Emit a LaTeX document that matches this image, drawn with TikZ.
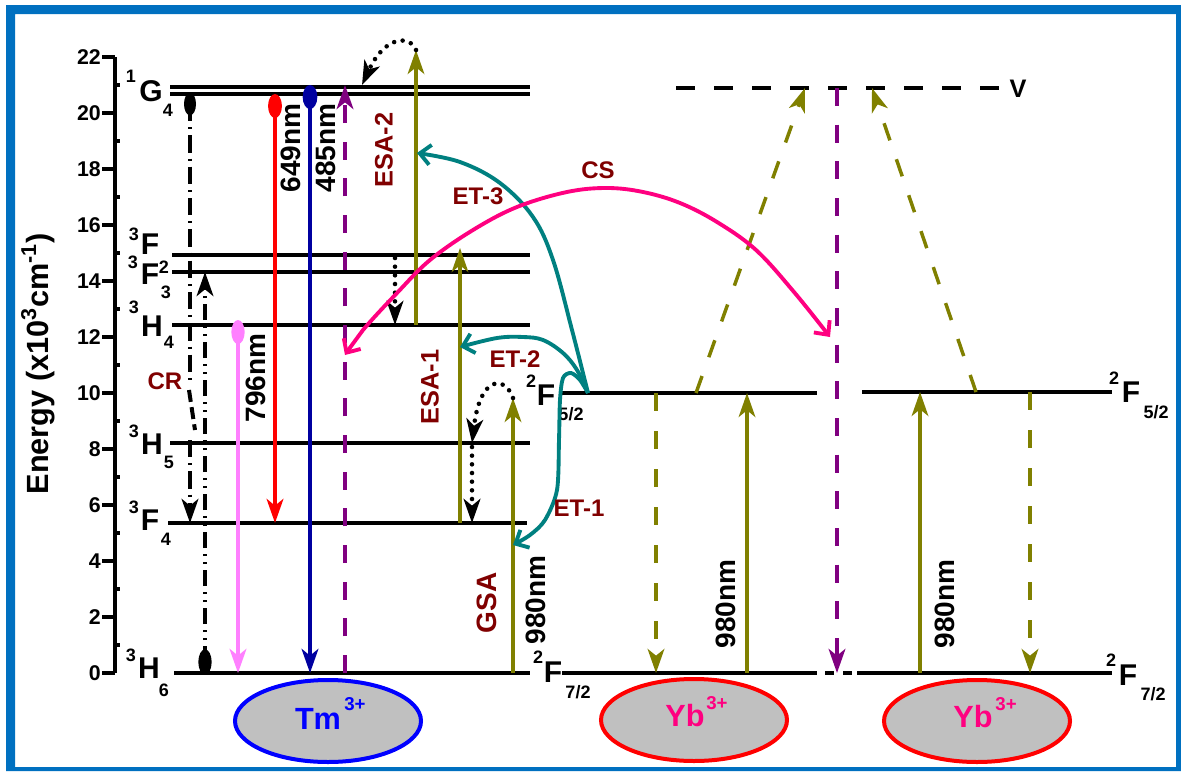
\documentclass[tikz,border=0pt]{standalone}
\usepackage{fontspec}
\setmainfont{Liberation Sans}
\usetikzlibrary{arrows.meta,shapes.geometric}

\definecolor{frameblue}{RGB}{0,112,192}
\definecolor{olivec}{RGB}{128,128,0}
\definecolor{tealc}{RGB}{0,128,128}
\definecolor{labelred}{RGB}{128,0,0}
\definecolor{hotpink}{RGB}{255,0,128}
\definecolor{lightmag}{RGB}{255,128,255}
\definecolor{navyc}{RGB}{0,0,160}
\definecolor{purplec}{RGB}{128,0,128}
\definecolor{ionfill}{RGB}{192,192,192}

\newcommand\fsz[1]{\fontsize{#1pt}{#1pt}\selectfont\bfseries}

\begin{document}
\begin{tikzpicture}[x=0.75pt,y=-0.75pt,
  lvl/.style={line width=2.8pt},
  lbl/.style={inner sep=0pt},
  big/.style={lbl,font=\fsz{22.5}},
  sml/.style={lbl,font=\fsz{13.5}},
  tk/.style={lbl,anchor=east,font=\fsz{16}},
  rot/.style={lbl,rotate=90,font=\fsz{21}},
  proc/.style={lbl,text=labelred,font=\fsz{18}},
  headS/.style={-{Stealth[length=18pt,width=12.5pt,inset=5pt]}},
  headB/.style={-{Straight Barb[length=8pt,width=15pt]}},
  olivearr/.style={olivec,line width=2.3pt,headS},
  olivedash/.style={olivec,line width=2.6pt,dash pattern=on 13.5pt off 15pt,headS},
  purpdash/.style={purplec,line width=3pt,dash pattern=on 13.5pt off 14pt,headS},
  emit/.style={line width=3pt,headS},
  dots/.style={line width=3.4pt,line cap=round,dash pattern=on 0pt off 6.5pt,headS},
  crdash/.style={line width=3pt,dash pattern=on 13pt off 4.5pt on 1.5pt off 4.5pt},
  crdash2/.style={line width=3pt,dash pattern=on 12pt off 4.5pt on 1.5pt off 4.5pt on 1.5pt off 4.5pt},
  etline/.style={tealc,line width=2.9pt,headB},
  ion/.style={ellipse,fill=ionfill,line width=3pt,minimum width=139.5pt,minimum height=61.5pt,inner sep=0pt}
]
\useasboundingbox (0,0) rectangle (1181,771);
\fill[white] (0,0) rectangle (1181,771);
% frame
\fill[frameblue,even odd rule] (6,5) rectangle (1181,771) (15,14) rectangle (1176,767);

% energy axis
\draw[line width=2.5pt] (115,57) -- (115,673);
\foreach \e in {0,2,...,22}{
  \pgfmathsetmacro\yy{673-28*\e}
  \draw[line width=2.5pt] (102,\yy) -- (115,\yy);
  \node[tk] (tick\e) at (101,\yy) {\e};
}
\foreach \e in {1,3,...,21}{
  \pgfmathsetmacro\yy{673-28*\e}
  \draw[line width=2.5pt] (115,\yy) -- (120,\yy);
}
\node[lbl,rotate=90,font=\fsz{23}] (elabel) at (38,364) {Energy (x10\textsuperscript{3}cm\textsuperscript{-1})};

% Tm3+ levels
\draw[lvl] (170,87) -- (530,87);
\draw[lvl] (170,94) -- (530,94);
\draw[lvl] (172,255) -- (530,255);
\draw[lvl] (172,272) -- (530,272);
\draw[lvl] (172,325) -- (530,325);
\draw[lvl] (170,443) -- (530,443);
\draw[lvl] (168,523) -- (527,523);
\draw[lvl] (174,673) -- (530,673);

% Tm3+ level names
\node[sml] (g4a) at (131,76) {1};
\node[big] (g4b) at (151,91) {G};
\node[sml] (g4c) at (168,110) {4};
\node[sml] (f2a) at (134,234) {3};
\node[big] (f2b) at (150,244) {F};
\node[sml] (f2c) at (164,267) {2};
\node[sml] (f3a) at (133,262) {3};
\node[big] (f3b) at (150,274) {F};
\node[sml] (f3c) at (166,292) {3};
\node[sml] (h4a) at (134,307) {3};
\node[big] (h4b) at (152,326) {H};
\node[sml] (h4c) at (169,342) {4};
\node[sml] (h5a) at (134,431) {3};
\node[big] (h5b) at (152,444) {H};
\node[sml] (h5c) at (169,462) {5};
\node[sml] (f4a) at (134,507) {3};
\node[big] (f4b) at (150,520) {F};
\node[sml] (f4c) at (166,539) {4};
\node[sml] (h6a) at (131,655) {3};
\node[big] (h6b) at (149,668) {H};
\node[sml] (h6c) at (164,690) {6};

% Yb3+ levels
\draw[lvl] (560,393) -- (817,393);
\draw[lvl] (562,673) -- (817,673);
\draw[lvl,dash pattern=on 6.5pt off 7pt] (825,673) -- (855,673);
\draw[lvl] (857,673) -- (1112,673);
\draw[lvl] (862,392) -- (1112,392);
\draw[line width=3.2pt,dash pattern=on 14.25pt off 14.25pt] (676,88) -- (1000,88);
\node[lbl,font=\fsz{19}] (vlab) at (1018,89) {V};

\node[sml] (y1a) at (531,381) {2};
\node[big] (y1b) at (546,395) {F};
\node[sml] (y1c) at (571,414) {5/2};
\node[sml] (y2a) at (538,657) {2};
\node[big] (y2b) at (553,672) {F};
\node[sml] (y2c) at (578,692) {7/2};
\node[sml] (y3a) at (1114,378) {2};
\node[big] (y3b) at (1131,392) {F};
\node[sml] (y3c) at (1156,412) {5/2};
\node[sml] (y4a) at (1111,660) {2};
\node[big] (y4b) at (1128,675) {F};
\node[sml] (y4c) at (1153,694) {7/2};

% cross relaxation
\coordinate (crA) at (190,104);
\coordinate (crB) at (190,523);
\coordinate (crC) at (205,662);
\coordinate (crD) at (205,272);
\draw[crdash] (crA) -- (190,385);
\draw[line width=3pt,dash pattern=on 9pt off 4pt] (189,390) -- (195,430);
\draw[crdash,headS] (190,440) -- (crB);
\draw[crdash2,headS] (crC) -- (crD);
\fill (crA) ellipse [x radius=4.5pt,y radius=8.5pt];
\fill (crC) ellipse [x radius=5pt,y radius=9.5pt];
\node[proc] (crlab) at (165,381) {CR};

% emissions
\coordinate (e796a) at (238,332);
\coordinate (e796b) at (238,673);
\coordinate (e649a) at (275,106);
\coordinate (e649b) at (275,523);
\coordinate (e485a) at (310,97);
\coordinate (e485b) at (310,673);
\draw[emit,lightmag] (e796a) -- (e796b);
\fill[lightmag] (e796a) ellipse [x radius=5pt,y radius=9pt];
\draw[emit,red] (e649a) -- (e649b);
\fill[red] (e649a) ellipse [x radius=5.2pt,y radius=9pt];
\draw[emit,navyc] (e485a) -- (e485b);
\fill[navyc] (e485a) ellipse [x radius=5.5pt,y radius=9pt];
\node[rot] (n796) at (256,378) {796nm};
\node[rot] (n649) at (291,148) {649nm};
\node[rot] (n485) at (326,148) {485nm};

% Tm3+ dashed purple
\coordinate (tmpA) at (345,673);
\coordinate (tmpB) at (345,85);
\draw[purpdash] (tmpA) -- (tmpB);

% absorptions in Tm3+
\coordinate (gsaA) at (513,673);
\coordinate (gsaB) at (513,398);
\coordinate (esa1A) at (460,523);
\coordinate (esa1B) at (460,248);
\coordinate (esa2A) at (416,325);
\coordinate (esa2B) at (416,50);
\draw[olivearr] (gsaA) -- (gsaB);
\draw[olivearr] (esa1A) -- (esa1B);
\draw[olivearr] (esa2A) -- (esa2B);
\node[rot,text=labelred] (gsalab) at (487,603) {GSA};
\node[rot] (n980a) at (536,600) {980nm};
\node[rot,text=labelred,font=\fsz{19}] (esa1lab) at (430,387) {ESA-1};
\node[rot,text=labelred,font=\fsz{19}] (esa2lab) at (384,150) {ESA-2};

% non-radiative relaxations
\draw[dots] (esa2B) .. controls (410,35) and (385,35) .. (362,85);
\draw[dots] (gsaB) .. controls (505,375) and (480,375) .. (472,443);
\draw[dots] (395,258) -- (395,325);
\draw[dots] (472,447) -- (472,523);

% Yb3+ transitions
\coordinate (yb1up) at (747,673);
\coordinate (yb1top) at (747,393);
\coordinate (yb1dn) at (656,393);
\coordinate (yb1bot) at (656,673);
\coordinate (yb2up) at (920,673);
\coordinate (yb2top) at (920,392);
\coordinate (yb2dn) at (1030,392);
\coordinate (yb2bot) at (1030,673);
\coordinate (vl) at (805,88);
\coordinate (vr) at (872,88);
\coordinate (vm) at (837,88);
\coordinate (vmb) at (837,673);
\draw[olivearr] (yb1up) -- (yb1top);
\draw[olivedash] (yb1dn) -- (yb1bot);
\draw[olivearr] (yb2up) -- (yb2top);
\draw[olivedash] (yb2dn) -- (yb2bot);
\draw[olivedash] (696,393) -- (vl);
\draw[olivedash] (976,392) -- (vr);
\draw[purpdash] (vm) -- (vmb);
\node[rot] (n980b) at (726,604) {980nm};
\node[rot] (n980c) at (945,604) {980nm};

% energy transfer
\coordinate (src) at (588,393);
\draw[etline] plot[smooth,tension=0.6] coordinates {(src) (572,330) (553,260) (533,217) (500,183) (460,162) (417,153)};
\draw[etline] plot[smooth,tension=0.6] coordinates {(src) (577,370) (563,353) (543,340) (523,337) (497,338) (460,347)};
\draw[etline] plot[smooth,tension=0.5] coordinates {(src) (580,380) (571,373) (563,378) (560,400) (559,440) (557,490) (545,520) (530,535) (513,545)};
\node[proc] (et3) at (478,196) {ET-3};
\node[proc] (et2) at (515,359) {ET-2};
\node[proc] (et1) at (579,508) {ET-1};

% cooperative sensitization
\draw[hotpink,line width=2.9pt,{Straight Barb[length=8pt,width=15pt]}-{Straight Barb[length=8pt,width=15pt]}]
  plot[smooth,tension=0.6] coordinates {(345,355) (363,330) (397,293) (430,260) (473,230) (517,207) (567,192) (607,188) (643,192) (680,203) (717,222) (756,250) (794,292) (830,337)};
\node[proc] (cs) at (598,170) {CS};

% ions
\node[ion,draw=blue] (tmion) at (328,721) {};
\node[lbl,text=blue,font=\fsz{23}] (tmtxt) at (318,719) {Tm};
\node[lbl,text=blue,font=\fsz{14}] (tmsup) at (355,704) {3+};
\node[ion,draw=red] (yb1ion) at (694,720) {};
\node[lbl,text=hotpink,font=\fsz{23}] (yb1txt) at (685,716) {Yb};
\node[lbl,text=hotpink,font=\fsz{14}] (yb1sup) at (717,703) {3+};
\node[ion,draw=red] (yb2ion) at (977,721) {};
\node[lbl,text=hotpink,font=\fsz{23}] (yb2txt) at (973,717) {Yb};
\node[lbl,text=hotpink,font=\fsz{14}] (yb2sup) at (1006,704) {3+};
\end{tikzpicture}
\end{document}
